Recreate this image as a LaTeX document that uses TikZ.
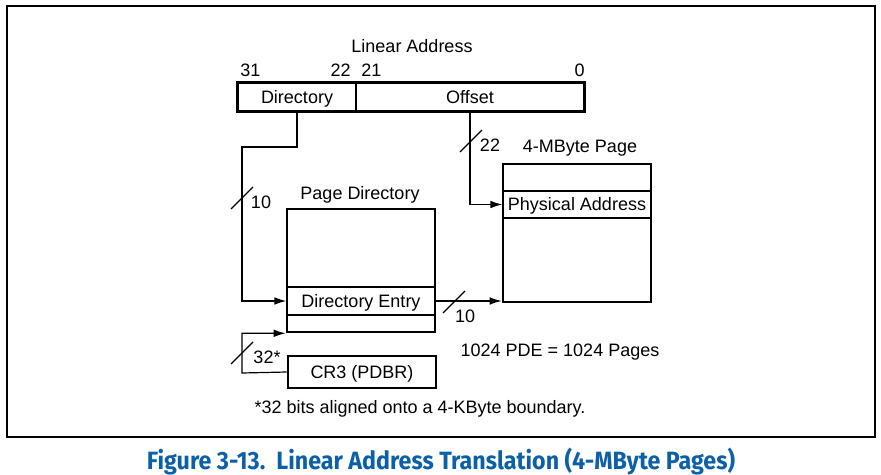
\documentclass[tikz,border=0pt]{standalone}
\usepackage{fontspec}
\setmainfont{Liberation Sans}
\newfontfamily\capfont[FakeStretch=0.93]{Fira Sans}
\usepackage{tikz}
\usetikzlibrary{positioning,arrows.meta}
\definecolor{capblue}{RGB}{12,96,168}
\tikzset{
  field/.style={draw, line width=0.6pt, inner sep=0pt, text height=6.4pt, text depth=0pt,
                font=\fontsize{9}{11}\selectfont},
  bigbox/.style={draw, line width=1.3pt, inner sep=0pt},
  rowbox/.style={field},
  lbl/.style={inner sep=0pt, anchor=base, font=\fontsize{9}{11}\selectfont},
  fwd/.style={-{Latex[length=6pt,width=3.8pt]}, line width=0.6pt},
  bar/.style={line width=0.6pt},
}

\begin{document}
\begin{tikzpicture}[x=0.5pt, y=-0.5pt]
  \useasboundingbox (0,0) rectangle (881,475);
  \draw[line width=1pt] (7,6) rectangle (875,437);

  % linear address
  \node[field, minimum width=59pt, minimum height=14pt] (dirf) at (297,97) {Directory};
  \node[field, minimum width=114pt, minimum height=14pt] (offf) at (470,97) {Offset};
  \draw[line width=1.3pt] (dirf.north west) rectangle (offf.south east);
  \node[lbl] (lin) at (412,53) {Linear Address};
  \node[lbl, anchor=base west] (b31) at (240,77) {31};
  \node[lbl, anchor=base east] (b22) at (351,77) {22};
  \node[lbl, anchor=base west] (b21) at (361,77) {21};
  \node[lbl, anchor=base east] (b0) at (585,77) {0};

  % page directory
  \node[bigbox, minimum width=74pt, minimum height=61.5pt] (pdir) at (361,270.5) {};
  \node[rowbox, minimum width=74pt, minimum height=14pt] (pde) at (361,301) {Directory Entry};
  \node[lbl] (pdirlab) at (360,200) {Page Directory};

  % 4-MByte page
  \node[bigbox, minimum width=74pt, minimum height=69pt] (page) at (577,233) {};
  \node[rowbox, minimum width=74pt, minimum height=13.5pt] (pa) at (577,204.5) {Physical Address};
  \node[lbl] (pagelab) at (580,153) {4-MByte Page};

  % CR3
  \node[field, bigbox, minimum width=74pt, minimum height=16pt] (cr3) at (362,372) {CR3 (PDBR)};

  \coordinate (dirbend) at (242,147);
  \coordinate (cr3bend) at (242,373);
  \draw[fwd] (dirf.south) |- (dirbend) |- (pde.west);
  \draw[fwd] (offf.south) |- (pa.west);
  \draw[fwd] (pde.east) -- (pde.east -| page.west);
  \draw[fwd] (cr3.west) -- (cr3bend) |- (pdir.south west);

  % bit-width marks
  \coordinate (m10a) at (242,198);
  \coordinate (m22) at (471,141);
  \coordinate (m10b) at (454,302);
  \coordinate (m32) at (242,353);
  \foreach \m in {m10a,m22,m10b,m32}
    \draw[bar] (\m) +(-11,11) -- +(11,-11);
  \node[lbl] (w10a) at (261,209) {10};
  \node[lbl] (w22) at (490,152) {22};
  \node[lbl] (w10b) at (465,322) {10};
  \node[lbl] (w32) at (267,363) {32*};

  \node[lbl] (pdenote) at (560,356) {1024 PDE = 1024 Pages};
  \node[lbl] (cr3note) at (420,413) {*32 bits aligned onto a 4-KByte boundary.};

  \node[anchor=base, inner sep=0pt, text=capblue, font=\capfont\bfseries\fontsize{12.5}{14}\selectfont] (cap) at (441,469)
    {Figure 3-13.\ \ Linear Address Translation (4-MByte Pages)};
\end{tikzpicture}
\end{document}
